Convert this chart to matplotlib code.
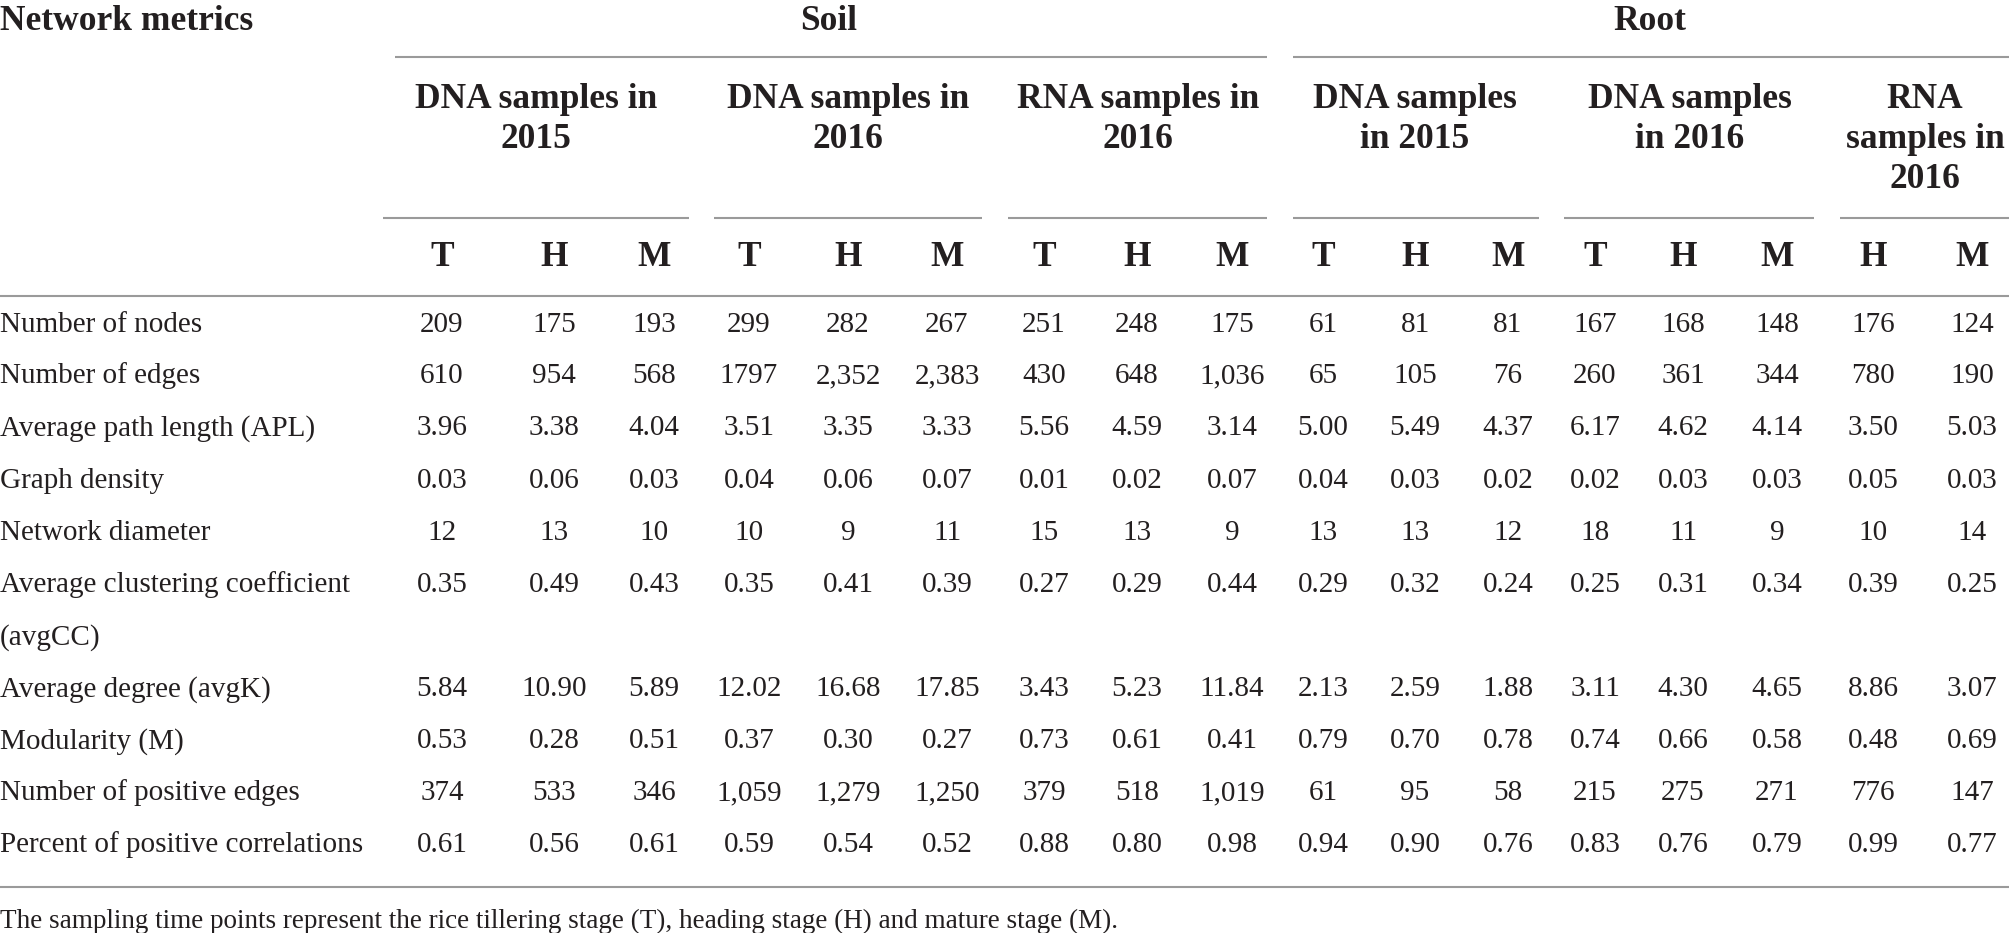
import matplotlib
matplotlib.use("Agg")
import matplotlib.pyplot as plt

# ---------------- data ----------------
groups = ["Soil", "Root"]
subgroups = [
    ["DNA samples in", "2015"],
    ["DNA samples in", "2016"],
    ["RNA samples in", "2016"],
    ["DNA samples", "in 2015"],
    ["DNA samples", "in 2016"],
    ["RNA", "samples in", "2016"],
]
stages = ["T", "H", "M", "T", "H", "M", "T", "H", "M",
          "T", "H", "M", "T", "H", "M", "H", "M"]
metrics = [
    ["Number of nodes"],
    ["Number of edges"],
    ["Average path length (APL)"],
    ["Graph density"],
    ["Network diameter"],
    ["Average clustering coefficient", "(avgCC)"],
    ["Average degree (avgK)"],
    ["Modularity (M)"],
    ["Number of positive edges"],
    ["Percent of positive correlations"],
]
nodes = ["209", "175", "193", "299", "282", "267", "251", "248", "175",
         "61", "81", "81", "167", "168", "148", "176", "124"]
edges = ["610", "954", "568", "1797", "2,352", "2,383", "430", "648", "1,036",
         "65", "105", "76", "260", "361", "344", "780", "190"]
apl = ["3.96", "3.38", "4.04", "3.51", "3.35", "3.33", "5.56", "4.59", "3.14",
       "5.00", "5.49", "4.37", "6.17", "4.62", "4.14", "3.50", "5.03"]
density = ["0.03", "0.06", "0.03", "0.04", "0.06", "0.07", "0.01", "0.02", "0.07",
           "0.04", "0.03", "0.02", "0.02", "0.03", "0.03", "0.05", "0.03"]
diameter = ["12", "13", "10", "10", "9", "11", "15", "13", "9",
            "13", "13", "12", "18", "11", "9", "10", "14"]
avgcc = ["0.35", "0.49", "0.43", "0.35", "0.41", "0.39", "0.27", "0.29", "0.44",
         "0.29", "0.32", "0.24", "0.25", "0.31", "0.34", "0.39", "0.25"]
avgk = ["5.84", "10.90", "5.89", "12.02", "16.68", "17.85", "3.43", "5.23", "11.84",
        "2.13", "2.59", "1.88", "3.11", "4.30", "4.65", "8.86", "3.07"]
modularity = ["0.53", "0.28", "0.51", "0.37", "0.30", "0.27", "0.73", "0.61", "0.41",
              "0.79", "0.70", "0.78", "0.74", "0.66", "0.58", "0.48", "0.69"]
pos_edges = ["374", "533", "346", "1,059", "1,279", "1,250", "379", "518", "1,019",
             "61", "95", "58", "215", "275", "271", "776", "147"]
pct_pos = ["0.61", "0.56", "0.61", "0.59", "0.54", "0.52", "0.88", "0.80", "0.98",
           "0.94", "0.90", "0.76", "0.83", "0.76", "0.79", "0.99", "0.77"]
values = [nodes, edges, apl, density, diameter, avgcc, avgk, modularity,
          pos_edges, pct_pos]
footnote = ("The sampling time points represent the rice tillering stage (T), "
            "heading stage (H) and mature stage (M).")

# ---------------- layout (pixels) ----------------
W, H = 2009, 933
col_x = [442, 554, 654, 749, 848, 947, 1044, 1137, 1232,
         1323, 1415, 1508, 1595, 1683, 1777, 1873, 1972]
group_x = [829, 1650]
group_lines = [(395, 1267), (1293, 2009)]
sub_x = [536, 848, 1138, 1415, 1690, 1925]
sub_lines = [(383, 689), (714, 982), (1008, 1267), (1293, 1539),
             (1564, 1814), (1840, 2009)]
row_y = [322, 373, 425, 478, 530, 582, 686, 738, 790, 842]
line_gap = 52.5
sub_line_gap = 40

TXT = "#231f20"
LINE = "#9a9a9a"
FONT = "Liberation Serif"
FS_DATA = 21.0
FS_HEAD = 25.5
FS_NOTE = 19.5

fig = plt.figure(figsize=(W / 100, H / 100), dpi=100)
ax = fig.add_axes([0, 0, 1, 1])
ax.set_xlim(0, W)
ax.set_ylim(H, 0)
ax.axis("off")

def t(x, y, s, bold=False, ha="center", size=None):
    ax.text(x, y, s, ha=ha, va="center_baseline", family=FONT,
            fontsize=size or (FS_HEAD if bold else FS_DATA),
            fontweight="bold" if bold else "normal", color=TXT)

def hline(x0, x1, y):
    ax.plot([x0, x1], [y, y], color=LINE, lw=1.5, solid_capstyle="butt")

# header
t(0, 18, "Network metrics", bold=True, ha="left")
for gx, g in zip(group_x, groups):
    t(gx, 18, g, bold=True)
for x0, x1 in group_lines:
    hline(x0, x1, 57)
for sx, lines in zip(sub_x, subgroups):
    for i, s in enumerate(lines):
        t(sx, 96 + i * sub_line_gap, s, bold=True)
for x0, x1 in sub_lines:
    hline(x0, x1, 218)
for cx, s in zip(col_x, stages):
    t(cx, 254, s, bold=True)
hline(0, W, 296)

# body
for ry, label, vals in zip(row_y, metrics, values):
    for i, s in enumerate(label):
        t(0, ry + i * line_gap, s, ha="left")
    for cx, v in zip(col_x, vals):
        t(cx, ry, v)
hline(0, W, 887)
t(0, 918, footnote, ha="left", size=FS_NOTE)

fig.savefig("out.png", dpi=100, facecolor="white")
